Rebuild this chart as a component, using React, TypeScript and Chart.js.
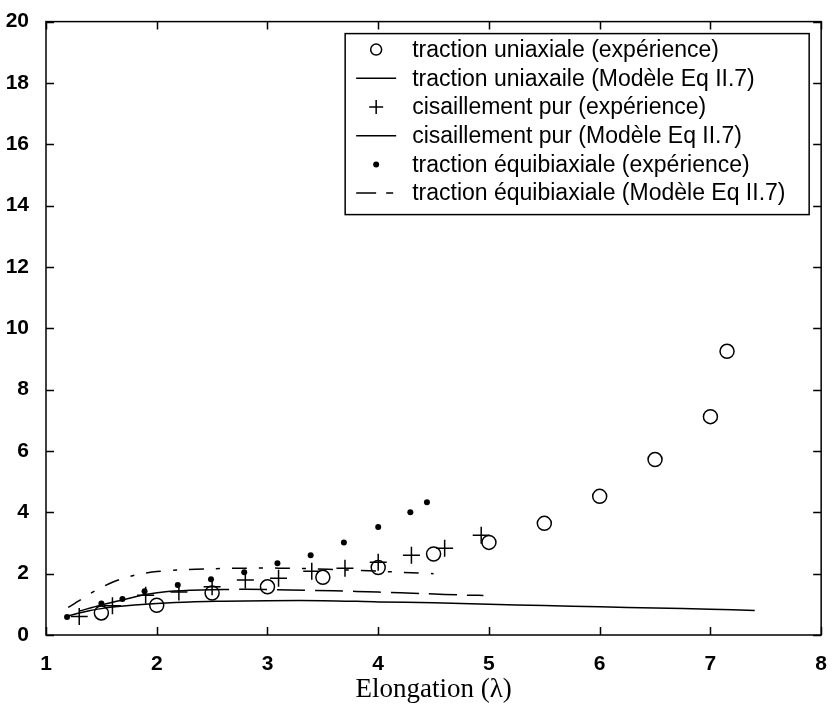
import React, { useEffect, useRef } from "react";
import { Chart, registerables } from "chart.js";
Chart.register(...registerables);

// ---- data ----
const uniaxExpX = [1.5, 2, 2.5, 3, 3.5, 4, 4.5, 5, 5.5, 6, 6.5, 7, 7.15];
const uniaxExpY = [0.72, 0.97, 1.37, 1.57, 1.88, 2.2, 2.64, 3.02, 3.64, 4.52, 5.72, 7.12, 9.25];

const uniaxModX = [1.2, 1.3, 1.4, 1.5, 1.6, 1.8, 2.0, 2.3, 2.6, 3.0, 3.5, 4.0, 4.5, 5.0, 5.5, 6.0, 6.5, 7.0, 7.4];
const uniaxModY = [0.62, 0.72, 0.8, 0.86, 0.91, 0.98, 1.03, 1.08, 1.1, 1.12, 1.12, 1.08, 1.05, 1.0, 0.96, 0.92, 0.88, 0.84, 0.8];

const shearExpX = [1.3, 1.6, 1.9, 2.2, 2.5, 2.8, 3.1, 3.4, 3.7, 4.0, 4.3, 4.6, 4.93];
const shearExpY = [0.6, 0.95, 1.3, 1.4, 1.57, 1.79, 1.85, 2.08, 2.18, 2.37, 2.6, 2.83, 3.25];

const shearModX = [1.3, 1.5, 1.7, 1.9, 2.1, 2.4, 2.8, 3.2, 3.6, 4.0, 4.4, 4.8, 4.95];
const shearModY = [0.78, 0.98, 1.15, 1.32, 1.42, 1.47, 1.49, 1.47, 1.44, 1.4, 1.35, 1.3, 1.29];

const equiExpX = [1.19, 1.5, 1.69, 1.89, 2.19, 2.49, 2.79, 3.09, 3.39, 3.69, 4.0, 4.29, 4.44];
const equiExpY = [0.59, 1.03, 1.17, 1.43, 1.63, 1.82, 2.05, 2.34, 2.6, 3.02, 3.52, 4.0, 4.33];

const equiModX = [1.2, 1.3, 1.4, 1.5, 1.6, 1.7, 1.8, 1.9, 2.0, 2.2, 2.5, 2.8, 3.1, 3.4, 3.7, 4.0, 4.3, 4.5];
const equiModY = [0.9, 1.12, 1.35, 1.55, 1.72, 1.85, 1.95, 2.02, 2.07, 2.12, 2.16, 2.18, 2.18, 2.16, 2.12, 2.08, 2.03, 2.0];

const legendLabels = [
  "traction uniaxiale (expérience)",
  "traction uniaxaile (Modèle Eq II.7)",
  "cisaillement pur (expérience)",
  "cisaillement pur (Modèle Eq II.7)",
  "traction équibiaxiale (expérience)",
  "traction équibiaxiale (Modèle Eq II.7)",
];

const xTicks = [1, 2, 3, 4, 5, 6, 7, 8];
const yTicks = [0, 2, 4, 6, 8, 10, 12, 14, 16, 18, 20];
const xTitle = "Elongation (λ)";

const pts = (xs: number[], ys: number[]) => xs.map((x, i) => ({ x, y: ys[i] }));

const SANS = "'Liberation Sans', Arial, sans-serif";

const framePlugin = {
  id: "frameTicks",
  afterDraw(chart: any) {
    const { ctx, chartArea: a, scales } = chart;
    ctx.save();
    ctx.strokeStyle = "#000";
    ctx.lineWidth = 1.5;
    ctx.strokeRect(a.left, a.top, a.right - a.left, a.bottom - a.top);
    const tl = 8;
    ctx.beginPath();
    xTicks.forEach((v) => {
      const px = Math.round(scales.x.getPixelForValue(v)) + 0.5;
      ctx.moveTo(px, a.bottom);
      ctx.lineTo(px, a.bottom - tl);
      ctx.moveTo(px, a.top);
      ctx.lineTo(px, a.top + tl);
    });
    yTicks.forEach((v) => {
      const py = Math.round(scales.y.getPixelForValue(v)) + 0.5;
      ctx.moveTo(a.left, py);
      ctx.lineTo(a.left + tl, py);
      ctx.moveTo(a.right, py);
      ctx.lineTo(a.right - tl, py);
    });
    ctx.stroke();

    // legend box
    const x0 = a.right - 12 - 464;
    const y0 = a.top + 12;
    const w = 464;
    const h = 181;
    ctx.fillStyle = "#fff";
    ctx.fillRect(x0, y0, w, h);
    ctx.lineWidth = 1.5;
    ctx.strokeRect(x0, y0, w, h);
    const rowH = 28.7;
    const symX = x0 + 31;
    const textX = x0 + 67;
    ctx.font = `23px ${SANS}`;
    ctx.textBaseline = "middle";
    ctx.textAlign = "left";
    legendLabels.forEach((lab, i) => {
      const cy = y0 + 16 + i * rowH;
      ctx.fillStyle = "#000";
      ctx.fillText(lab, textX, cy + 1);
      ctx.strokeStyle = "#000";
      ctx.lineWidth = 1.5;
      ctx.beginPath();
      if (i === 0) {
        ctx.arc(symX, cy, 5.5, 0, Math.PI * 2);
        ctx.stroke();
      } else if (i === 1 || i === 3) {
        ctx.moveTo(symX - 20, cy);
        ctx.lineTo(symX + 20, cy);
        ctx.stroke();
      } else if (i === 2) {
        ctx.moveTo(symX - 7, cy);
        ctx.lineTo(symX + 7, cy);
        ctx.moveTo(symX, cy - 7);
        ctx.lineTo(symX, cy + 7);
        ctx.stroke();
      } else if (i === 4) {
        ctx.arc(symX, cy, 3, 0, Math.PI * 2);
        ctx.fillStyle = "#000";
        ctx.fill();
      } else {
        ctx.moveTo(symX - 20, cy);
        ctx.lineTo(symX, cy);
        ctx.moveTo(symX + 10, cy);
        ctx.lineTo(symX + 17, cy);
        ctx.stroke();
      }
    });
    ctx.restore();
  },
};

export default function App() {
  const ref = useRef<HTMLCanvasElement | null>(null);
  useEffect(() => {
    if (!ref.current) return;
    const lineBase = {
      type: "line" as const,
      showLine: true,
      borderColor: "#000",
      borderWidth: 1.5,
      pointRadius: 0,
      fill: false,
      tension: 0.3,
    };
    const chart = new Chart(ref.current, {
      type: "scatter",
      data: {
        datasets: [
          {
            label: legendLabels[0],
            data: pts(uniaxExpX, uniaxExpY),
            pointStyle: "circle",
            pointRadius: 7,
            borderColor: "#000",
            backgroundColor: "rgba(0,0,0,0)",
            borderWidth: 1.5,
          },
          { ...lineBase, label: legendLabels[1], data: pts(uniaxModX, uniaxModY) },
          {
            label: legendLabels[2],
            data: pts(shearExpX, shearExpY),
            pointStyle: "cross",
            pointRadius: 8.5,
            borderColor: "#000",
            borderWidth: 1.5,
          },
          {
            ...lineBase,
            label: legendLabels[3],
            data: pts(shearModX, shearModY),
            segment: {
              borderDash: (c: any) => (c.p0.parsed.x >= 2.2 ? [28, 10] : undefined),
            },
          },
          {
            label: legendLabels[4],
            data: pts(equiExpX, equiExpY),
            pointStyle: "circle",
            pointRadius: 3,
            borderColor: "#000",
            backgroundColor: "#000",
            borderWidth: 0,
          },
          {
            ...lineBase,
            label: legendLabels[5],
            data: pts(equiModX, equiModY),
            borderDash: [15, 12, 4, 12],
          },
        ] as any,
      },
      options: {
        responsive: false,
        animation: false,
        layout: { padding: { top: 20, right: 8, left: 0, bottom: 0 } },
        plugins: { legend: { display: false }, tooltip: { enabled: false } },
        scales: {
          x: {
            type: "linear",
            min: 1,
            max: 8,
            afterFit: (s: any) => {
              s.height = 80;
            },
            afterBuildTicks: (s: any) => {
              s.ticks = xTicks.map((v) => ({ value: v }));
            },
            grid: { display: false },
            border: { display: false },
            ticks: {
              color: "#000",
              padding: 9,
              font: { family: SANS, size: 21, weight: "bold" },
            },
            title: {
              display: true,
              text: xTitle,
              color: "#000",
              font: { family: "'Liberation Serif', 'Times New Roman', serif", size: 27 },
              padding: { top: 0, bottom: 9 },
            },
          },
          y: {
            type: "linear",
            min: 0,
            max: 20,
            afterFit: (s: any) => {
              s.width = 46;
            },
            afterBuildTicks: (s: any) => {
              s.ticks = yTicks.map((v) => ({ value: v }));
            },
            grid: { display: false },
            border: { display: false },
            ticks: {
              color: "#000",
              padding: 9,
              font: { family: SANS, size: 21, weight: "bold" },
            },
          },
        },
      } as any,
      plugins: [framePlugin],
    });
    return () => chart.destroy();
  }, []);
  return (
    <div style={{ position: "absolute", left: 0, top: 0, width: 836, height: 715, background: "#fff" }}>
      <canvas ref={ref} width={836} height={715} style={{ display: "block" }} />
    </div>
  );
}
